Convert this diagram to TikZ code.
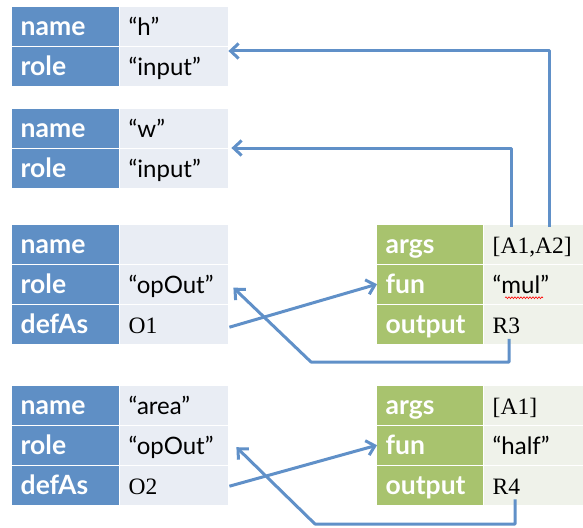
\documentclass[tikz,border=0pt]{standalone}
\usepackage{fontspec}
\setmainfont{Lato}
\newfontfamily\serifval{Liberation Serif}
\usetikzlibrary{arrows.meta,calc,decorations.pathmorphing}

\definecolor{labelblue}{RGB}{95,143,197}
\definecolor{cellblue}{RGB}{233,237,244}
\definecolor{labelgreen}{RGB}{168,195,110}
\definecolor{cellgreen}{RGB}{239,242,234}
\definecolor{linkblue}{RGB}{96,144,200}

\tikzset{
  cell/.style={rectangle, draw=white, line width=1.4pt, anchor=north west,
    minimum height=40pt, inner xsep=9pt, inner ysep=0pt,
    text height=22pt, text depth=4pt, align=left},
  lbl/.style={cell, text=white, font=\fontsize{26.5}{26.5}\selectfont\bfseries},
  val/.style={cell, text=black, font=\fontsize{24}{24}\selectfont},
  blbl/.style={lbl, fill=labelblue, text width=90pt},
  bval/.style={val, fill=cellblue, text width=91pt},
  glbl/.style={lbl, fill=labelgreen, text width=89pt},
  gval/.style={val, fill=cellgreen, text width=82pt},
  ser/.style={font=\serifval\fontsize{23.5}{23.5}\selectfont},
  link/.style={draw=linkblue, line width=3pt, line join=round,
    -{Straight Barb[length=8pt,width=15pt]}},
}

\begin{document}
\begin{tikzpicture}[x=1pt, y=-1pt]
\useasboundingbox (0,0) rectangle (583,527);

% variable records
\node[blbl] (t1l1) at (11,6)  {name};  \node[bval] (t1v1) at (119,6)  {“h”};
\node[blbl] (t1l2) at (11,46) {role};  \node[bval] (t1v2) at (119,46) {“input”};

\node[blbl] (t2l1) at (11,108) {name}; \node[bval] (t2v1) at (119,108) {“w”};
\node[blbl] (t2l2) at (11,148) {role}; \node[bval] (t2v2) at (119,148) {“input”};

\node[blbl] (t3l1) at (11,223.5) {name};  \node[bval] (t3v1) at (119,223.5) {};
\node[blbl] (t3l2) at (11,263.5) {role};  \node[bval] (t3v2) at (119,263.5) {“opOut”};
\node[blbl] (t3l3) at (11,303.5) {defAs}; \node[bval,ser] (t3v3) at (119,303.5) {O1};

\node[blbl] (t4l1) at (11,384.5) {name};  \node[bval] (t4v1) at (119,384.5) {“area”};
\node[blbl] (t4l2) at (11,424.5) {role};  \node[bval] (t4v2) at (119,424.5) {“opOut”};
\node[blbl] (t4l3) at (11,464.5) {defAs}; \node[bval,ser] (t4v3) at (119,464.5) {O2};

% operation records
\node[glbl] (r1l1) at (376,223.5) {args};   \node[gval,ser] (r1v1) at (483,223.5) {[A1,A2]};
\node[glbl] (r1l2) at (376,263.5) {fun};    \node[gval] (r1v2) at (483,263.5) {“mul”};
\node[glbl] (r1l3) at (376,303.5) {output}; \node[gval,ser] (r1v3) at (483,303.5) {R3};

\node[glbl] (r2l1) at (376,384.5) {args};   \node[gval,ser] (r2v1) at (483,384.5) {[A1]};
\node[glbl] (r2l2) at (376,424.5) {fun};    \node[gval] (r2v2) at (483,424.5) {“half”};
\node[glbl] (r2l3) at (376,464.5) {output}; \node[gval,ser] (r2v3) at (483,464.5) {R4};

% spell-check squiggle
\draw[red, line width=0.6pt, decorate,
      decoration={snake, amplitude=0.9pt, segment length=3pt}]
  ([xshift=22pt,yshift=-13.5pt]r1v2.west) -- ++(38,0);

% links
\coordinate (bend1) at (311,362);
\coordinate (bend2) at (315,524);

\draw[link] ([xshift=66pt,yshift=-3pt]r1v1.north west) |- ([xshift=-1pt,yshift=-5pt]t1v2.north east);
\draw[link] ([xshift=28pt,yshift=-3pt]r1v1.north west) |- ([xshift=2pt]t2v2.north east);

\draw[link] ([yshift=-3pt]t3v3.east) -- ([xshift=1pt]r1l2.west);
\draw[link] ([xshift=26pt,yshift=6pt]r1v3.south west) |- (bend1) -- ([xshift=4pt,yshift=-3.5pt]t3v2.east);

\draw[link] ([yshift=-1pt]t4v3.east) -- ([xshift=1pt]r2l2.west);
\draw[link] ([xshift=32pt,yshift=6.5pt]r2v3.south west) |- (bend2) -- ([xshift=7pt,yshift=-2pt]t4v2.east);
\end{tikzpicture}
\end{document}
